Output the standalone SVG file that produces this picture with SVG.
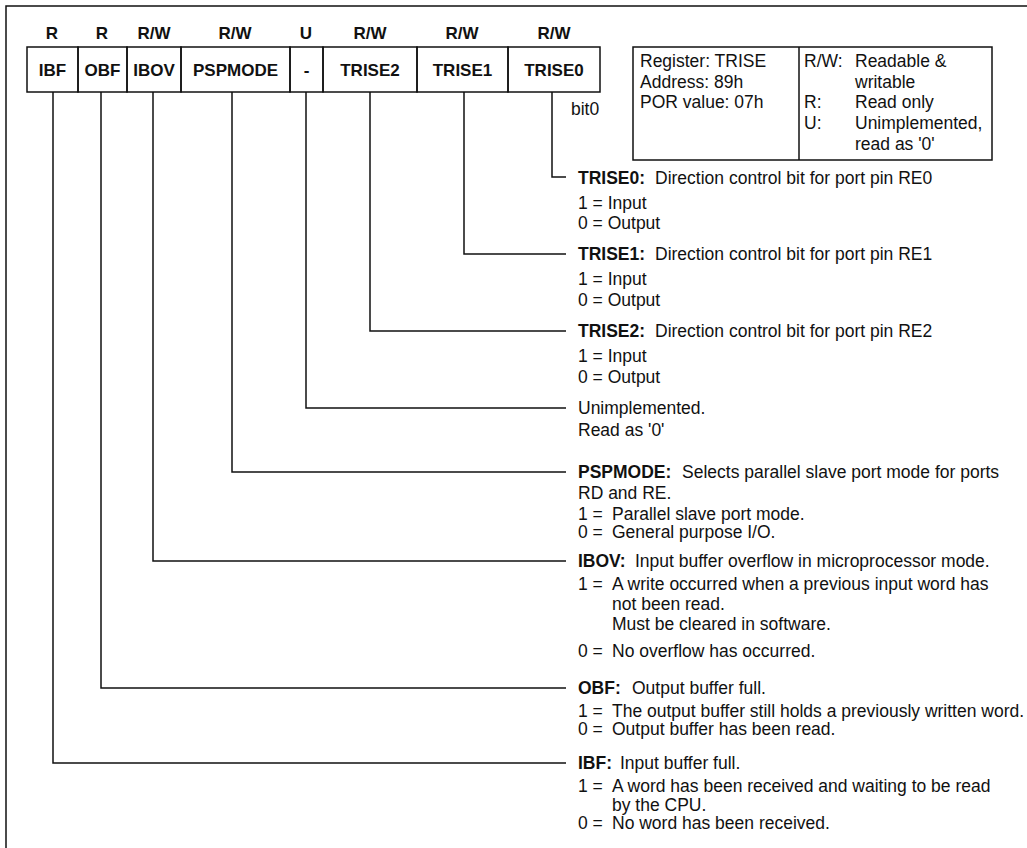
<svg xmlns="http://www.w3.org/2000/svg" width="1027" height="848" viewBox="0 0 1027 848">
<style>
text{font-family:"Liberation Sans",Arial,sans-serif;font-size:17.5px;fill:#111}
.b{font-weight:bold}
.c{text-anchor:middle}
.r{font-size:17px}
.box{fill:none;stroke:#111;stroke-width:1.5}
.ln{fill:none;stroke:#111;stroke-width:1.5}
</style>
<rect width="1027" height="848" fill="#fff"/>
<path class="ln" d="M6,848 V6 H1027"/>
<g id="access">
<text class="b c r" x="52" y="39">R</text>
<text class="b c r" x="102" y="39">R</text>
<text class="b c r" x="154" y="39">R/W</text>
<text class="b c r" x="235" y="39">R/W</text>
<text class="b c r" x="306" y="39">U</text>
<text class="b c r" x="370" y="39">R/W</text>
<text class="b c r" x="462" y="39">R/W</text>
<text class="b c r" x="554" y="39">R/W</text>
</g>
<g id="register">
<g id="cell-ibf"><rect class="box" x="27" y="47" width="51" height="45"/><text class="b c r" x="52.5" y="76">IBF</text></g>
<g id="cell-obf"><rect class="box" x="78" y="47" width="49" height="45"/><text class="b c r" x="102.5" y="76">OBF</text></g>
<g id="cell-ibov"><rect class="box" x="127" y="47" width="54" height="45"/><text class="b c r" x="154" y="76">IBOV</text></g>
<g id="cell-pspmode"><rect class="box" x="181" y="47" width="109" height="45"/><text class="b c r" x="235.5" y="76">PSPMODE</text></g>
<g id="cell-u"><rect class="box" x="290" y="47" width="33" height="45"/><text class="b c r" x="306.5" y="76">-</text></g>
<g id="cell-trise2"><rect class="box" x="323" y="47" width="94" height="45"/><text class="b c r" x="370" y="76">TRISE2</text></g>
<g id="cell-trise1"><rect class="box" x="417" y="47" width="91" height="45"/><text class="b c r" x="462.5" y="76">TRISE1</text></g>
<g id="cell-trise0"><rect class="box" x="508" y="47" width="92" height="45"/><text class="b c r" x="554" y="76">TRISE0</text></g>
<text x="571" y="115">bit0</text>
</g>
<g id="legend">
<rect class="box" x="633" y="47" width="359" height="113"/>
<line class="ln" x1="799" y1="47" x2="799" y2="160"/>
<text x="640" y="67">Register:  TRISE</text>
<text x="640" y="88">Address:  89h</text>
<text x="640" y="108">POR  value: 07h</text>
<text x="804" y="67">R/W:</text><text x="855" y="67">Readable &amp;</text>
<text x="855" y="88">writable</text>
<text x="804" y="108">R:</text><text x="855" y="108">Read only</text>
<text x="804" y="129">U:</text><text x="855" y="129">Unimplemented,</text>
<text x="855" y="150">read as '0'</text>
</g>
<g id="connectors">
<path class="ln" d="M552,92 V177 H566"/>
<path class="ln" d="M464,92 V254 H566"/>
<path class="ln" d="M370,92 V331 H566"/>
<path class="ln" d="M306,92 V408 H566"/>
<path class="ln" d="M232,92 V472 H566"/>
<path class="ln" d="M153,92 V561 H566"/>
<path class="ln" d="M101,92 V688 H566"/>
<path class="ln" d="M53,92 V763 H566"/>
</g>
<g id="desc-trise0">
<text class="b" x="578" y="184">TRISE0:</text><text x="655" y="184">Direction control bit for port pin RE0</text>
<text x="578" y="209">1 = Input</text>
<text x="578" y="229">0 = Output</text>
</g>
<g id="desc-trise1">
<text class="b" x="578" y="260">TRISE1:</text><text x="655" y="260">Direction control bit for port pin RE1</text>
<text x="578" y="285">1 = Input</text>
<text x="578" y="306">0 = Output</text>
</g>
<g id="desc-trise2">
<text class="b" x="578" y="337">TRISE2:</text><text x="655" y="337">Direction control bit for port pin RE2</text>
<text x="578" y="362">1 = Input</text>
<text x="578" y="383">0 = Output</text>
</g>
<g id="desc-unimpl">
<text x="578" y="414">Unimplemented.</text>
<text x="578" y="436">Read as '0'</text>
</g>
<g id="desc-pspmode">
<text class="b" x="578" y="478">PSPMODE:</text><text x="682" y="478">Selects parallel slave port mode for ports</text>
<text x="578" y="499">RD and RE.</text>
<text x="578" y="520">1 =</text><text x="612" y="520">Parallel slave port mode.</text>
<text x="578" y="538">0 =</text><text x="612" y="538">General purpose I/O.</text>
</g>
<g id="desc-ibov">
<text class="b" x="578" y="567">IBOV:</text><text x="635" y="567">Input buffer overflow in microprocessor mode.</text>
<text x="578" y="590">1 =</text><text x="612" y="590">A write occurred when a previous input word has</text>
<text x="612" y="610">not been read.</text>
<text x="612" y="630">Must be cleared in software.</text>
<text x="578" y="657">0 =</text><text x="612" y="657">No overflow has occurred.</text>
</g>
<g id="desc-obf">
<text class="b" x="578" y="694">OBF:</text><text x="632" y="694">Output buffer full.</text>
<text x="578" y="717">1 =</text><text x="612" y="717">The output buffer still holds a previously written word.</text>
<text x="578" y="735">0 =</text><text x="612" y="735">Output buffer has been read.</text>
</g>
<g id="desc-ibf">
<text class="b" x="578" y="769">IBF:</text><text x="620" y="769">Input buffer full.</text>
<text x="578" y="792">1 =</text><text x="612" y="792">A word has been received and waiting to be read</text>
<text x="612" y="811">by the CPU.</text>
<text x="578" y="829">0 =</text><text x="612" y="829">No word has been received.</text>
</g>
</svg>
